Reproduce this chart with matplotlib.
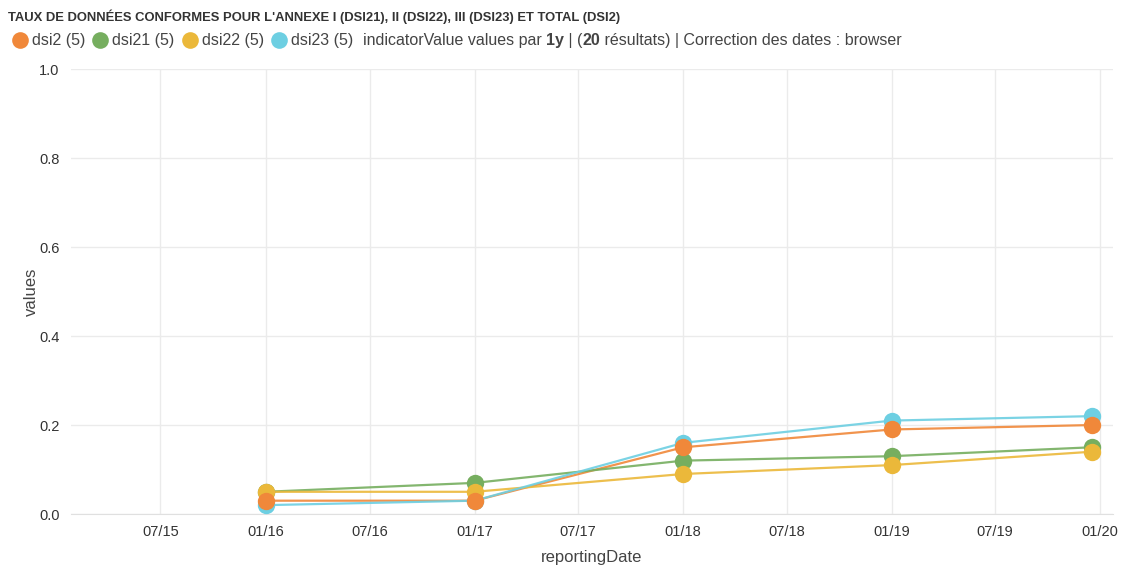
import matplotlib
matplotlib.use('Agg')
import matplotlib.pyplot as plt
import matplotlib.dates as mdates
from matplotlib.lines import Line2D
import numpy as np
import pandas as pd

# --- données ---
dates = pd.to_datetime(['2016-01-01', '2017-01-01', '2018-01-01', '2019-01-01', '2019-12-17'])
dsi2 = [0.03, 0.03, 0.15, 0.19, 0.20]
dsi21 = [0.05, 0.07, 0.12, 0.13, 0.15]
dsi22 = [0.05, 0.05, 0.09, 0.11, 0.14]
dsi23 = [0.02, 0.03, 0.16, 0.21, 0.22]
series_names = ['dsi2', 'dsi21', 'dsi22', 'dsi23']
series_colors = ['#f0883a', '#76ae5f', '#ebb83a', '#6dcfe2']
tick_dates = pd.date_range('2015-07-01', '2020-01-01', freq='6MS')

plt.rcParams['font.family'] = ['Liberation Sans', 'DejaVu Sans']

fig = plt.figure(figsize=(11.24, 5.68), dpi=100)
ax = fig.add_axes([0.063, 0.095, 0.927, 0.7835])

all_vals = [dsi2, dsi21, dsi22, dsi23]
for name, vals, col in zip(series_names, all_vals, series_colors):
    ax.plot(dates, vals, color=col, lw=1.6, alpha=0.9, zorder=3)
# ordre de dessin des points : orange au-dessus
marker_z = {'dsi21': 4, 'dsi23': 5, 'dsi22': 6, 'dsi2': 7}
for name, vals, col in zip(series_names, all_vals, series_colors):
    ax.plot(dates, vals, 'o', color=col, ms=12.5, zorder=marker_z[name], markeredgewidth=0)

ax.set_xlim(pd.Timestamp('2015-01-25'), pd.Timestamp('2020-01-23'))
ax.set_ylim(0, 1.0)
ax.set_yticks(np.arange(0, 1.01, 0.2))
ax.yaxis.set_major_formatter(plt.FormatStrFormatter('%.1f'))
ax.set_xticks(tick_dates)
ax.xaxis.set_major_formatter(mdates.DateFormatter('%m/%y'))
ax.grid(True, color='#ebebeb', lw=1)
ax.set_axisbelow(True)
for s in ['top', 'right', 'left']:
    ax.spines[s].set_visible(False)
ax.spines['bottom'].set_color('#e0e0e0')
ax.tick_params(length=0, labelsize=10.5, colors='#333333', pad=8)
ax.set_xlabel('reportingDate', fontsize=12, color='#444444', labelpad=8)
ax.set_ylabel('values', fontsize=12, color='#444444', labelpad=0)

# --- titre ---
fig.text(0.007, 0.970, "TAUX DE DONNÉES CONFORMES POUR L'ANNEXE I (DSI21), II (DSI22), III (DSI23) ET TOTAL (DSI2)",
         fontsize=9.4, fontweight='bold', color='#333333', va='center')

# --- légende manuelle ---
fig.canvas.draw()
renderer = fig.canvas.get_renderer()
y_leg = 0.929
x = 8 / 1124

def put(txt, x, weight='normal', gap=0.0):
    t = fig.text(x, y_leg, txt, fontsize=11.5, color='#444444', va='center', fontweight=weight)
    bb = t.get_window_extent(renderer)
    return x + bb.width / fig.bbox.width + gap

for name, col in zip(series_names, series_colors):
    fig.add_artist(Line2D([x + 12 / 1124], [y_leg], marker='o', ms=12, color=col,
                          markeredgewidth=0, transform=fig.transFigure))
    x = put(f'{name} (5)', x + 24 / 1124, gap=3 / 1124)

x += 7 / 1124
pieces = [('indicatorValue values par ', 'normal'), ('1y', 'bold'), (' | (', 'normal'),
          ('20', 'bold'), (' résultats) | Correction des dates : browser', 'normal')]
for txt, w in pieces:
    x = put(txt, x, weight=w)

fig.savefig('out.png', dpi=100, facecolor='white')
